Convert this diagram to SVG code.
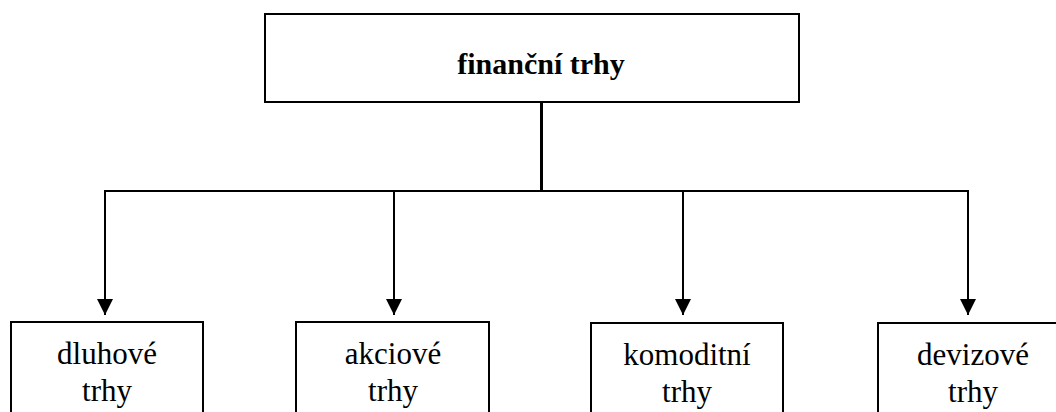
<svg xmlns="http://www.w3.org/2000/svg" width="1056" height="412" viewBox="0 0 1056 412">
  <style>
    .box { fill: #ffffff; stroke: #000000; stroke-width: 2; }
    .title { font-family: "Liberation Serif", "Times New Roman", serif; font-size: 30px; font-weight: bold; fill: #000000; text-anchor: middle; }
    .label { font-family: "Liberation Serif", "Times New Roman", serif; font-size: 31px; fill: #000000; text-anchor: middle; }
    .wire { fill: none; stroke: #000000; stroke-width: 2; }
    .trunk { fill: none; stroke: #000000; stroke-width: 3; }
  </style>
  <defs>
    <marker id="arrow" viewBox="0 0 16 16" refX="16" refY="8" markerWidth="16" markerHeight="16" markerUnits="userSpaceOnUse" orient="auto">
      <path d="M0,0 L16,8 L0,16 Z" fill="#000000"/>
    </marker>
  </defs>
  <rect width="1056" height="412" fill="#ffffff"/>

  <g id="connectors">
    <line class="trunk" x1="541.5" y1="103" x2="541.5" y2="190"/>
    <line class="wire" x1="104" y1="191" x2="969" y2="191"/>
    <line class="wire" x1="105" y1="191" x2="105" y2="315" marker-end="url(#arrow)"/>
    <line class="wire" x1="394" y1="191" x2="394" y2="315" marker-end="url(#arrow)"/>
    <line class="wire" x1="683" y1="191" x2="683" y2="315" marker-end="url(#arrow)"/>
    <line class="wire" x1="968" y1="191" x2="968" y2="315" marker-end="url(#arrow)"/>
  </g>

  <g id="financni-trhy">
    <rect class="box" x="265" y="14" width="534" height="88"/>
    <text class="title" x="541" y="74">finanční trhy</text>
  </g>

  <g id="dluhove-trhy">
    <rect class="box" x="11" y="322" width="192" height="100"/>
    <text class="label" x="107" y="364">dluhové</text>
    <text class="label" x="107" y="401">trhy</text>
  </g>

  <g id="akciove-trhy">
    <rect class="box" x="296" y="322" width="193" height="100"/>
    <text class="label" x="393" y="364">akciové</text>
    <text class="label" x="393" y="401">trhy</text>
  </g>

  <g id="komoditni-trhy">
    <rect class="box" x="591" y="323" width="192" height="100"/>
    <text class="label" x="687" y="365">komoditní</text>
    <text class="label" x="687" y="402">trhy</text>
  </g>

  <g id="devizove-trhy">
    <rect class="box" x="878" y="323" width="192" height="100"/>
    <text class="label" x="973" y="365">devizové</text>
    <text class="label" x="973" y="402">trhy</text>
  </g>
</svg>
